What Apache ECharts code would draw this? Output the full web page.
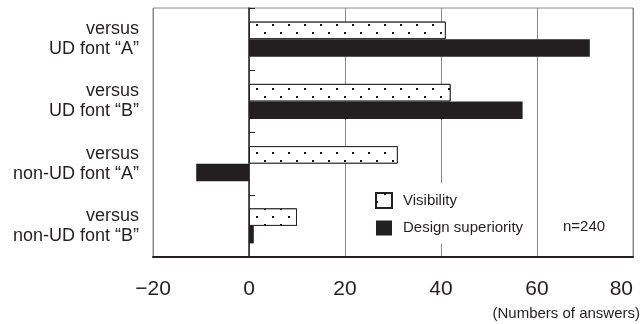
<!DOCTYPE html>
<html>
<head>
<meta charset="utf-8">
<script src="https://cdn.jsdelivr.net/npm/echarts@6/dist/echarts.min.js"></script>
<style>html,body{margin:0;padding:0;background:#fff}#c{width:644px;height:324px}</style>
</head>
<body>
<div id="c"></div>
<script>
var categories = ['versus\nUD font \u201CA\u201D', 'versus\nUD font \u201CB\u201D', 'versus\nnon-UD font \u201CA\u201D', 'versus\nnon-UD font \u201CB\u201D'];
var visibility = [41, 42, 31, 10];
var designSuperiority = [71, 57, -11, 1];
var xTicks = [-20, 0, 20, 40, 60, 80];
var seriesNames = ['Visibility', 'Design superiority'];

var chart = echarts.init(document.getElementById('c'), null, {renderer: 'canvas'});
var dotDecal = {
  symbol: 'rect',
  symbolSize: 1,
  color: '#111',
  backgroundColor: '#fff',
  dashArrayX: [[2, 14], [0, 8, 2, 6]],
  dashArrayY: [2, 6],
  rotation: 0
};
chart.setOption({
  animation: false,
  backgroundColor: '#fff',
  grid: {left: 153, right: 11, top: 8, bottom: 67, show: true, borderColor: '#888', borderWidth: 1, containLabel: false},
  xAxis: {
    type: 'value', min: xTicks[0], max: xTicks[xTicks.length - 1], interval: 20,
    axisLine: {show: true, onZero: false, lineStyle: {color: '#231f20', width: 2}},
    axisTick: {show: false},
    splitLine: {show: true, lineStyle: {color: '#888', width: 1}},
    axisLabel: {
      margin: 22, color: '#231f20', fontSize: 21, alignMaxLabel: 'right',
      fontFamily: '"Liberation Sans", Arial, sans-serif',
      formatter: function (v) { return v < 0 ? '\u2212' + Math.abs(v) : String(v); }
    }
  },
  yAxis: [{
    type: 'category', data: categories, inverse: true,
    axisLine: {show: false, onZero: false},
    axisTick: {show: false},
    axisLabel: {margin: 14, color: '#231f20', fontSize: 18, lineHeight: 20, align: 'right',
      fontFamily: '"Liberation Sans", Arial, sans-serif'}
  }, {
    type: 'category', data: categories, inverse: true, position: 'left',
    axisLine: {show: true, onZero: true, lineStyle: {color: '#231f20', width: 1.5}},
    axisTick: {show: true, inside: true, length: 6, lineStyle: {color: '#231f20', width: 1}},
    axisLabel: {show: false}
  }],
  legend: {
    orient: 'vertical', left: 366, top: 183, padding: [9, 8, 8, 9],
    backgroundColor: '#fff', itemWidth: 16, itemHeight: 15, itemGap: 11.5,
    icon: 'rect',
    textStyle: {fontSize: 15, color: '#231f20', padding: [0, 0, 0, 6], fontFamily: '"Liberation Sans", Arial, sans-serif'},
    data: seriesNames
  },
  series: [{
    name: seriesNames[0], type: 'bar', data: visibility, barWidth: 17.5, barGap: '0%',
    itemStyle: {color: '#fff', borderColor: '#222', borderWidth: 1, decal: dotDecal}
  }, {
    name: seriesNames[1], type: 'bar', data: designSuperiority, barWidth: 17.5, barGap: '0%',
    itemStyle: {color: '#231f20'}
  }],
  graphic: [{
    type: 'text', left: 563, top: 219,
    style: {text: 'n=240', fontSize: 15, fill: '#231f20', fontFamily: '"Liberation Sans", Arial, sans-serif'}
  }, {
    type: 'text', right: 4, top: 306,
    style: {text: '(Numbers of answers)', fontSize: 15, fill: '#231f20', fontFamily: '"Liberation Sans", Arial, sans-serif'}
  }]
});
</script>
</body>
</html>
